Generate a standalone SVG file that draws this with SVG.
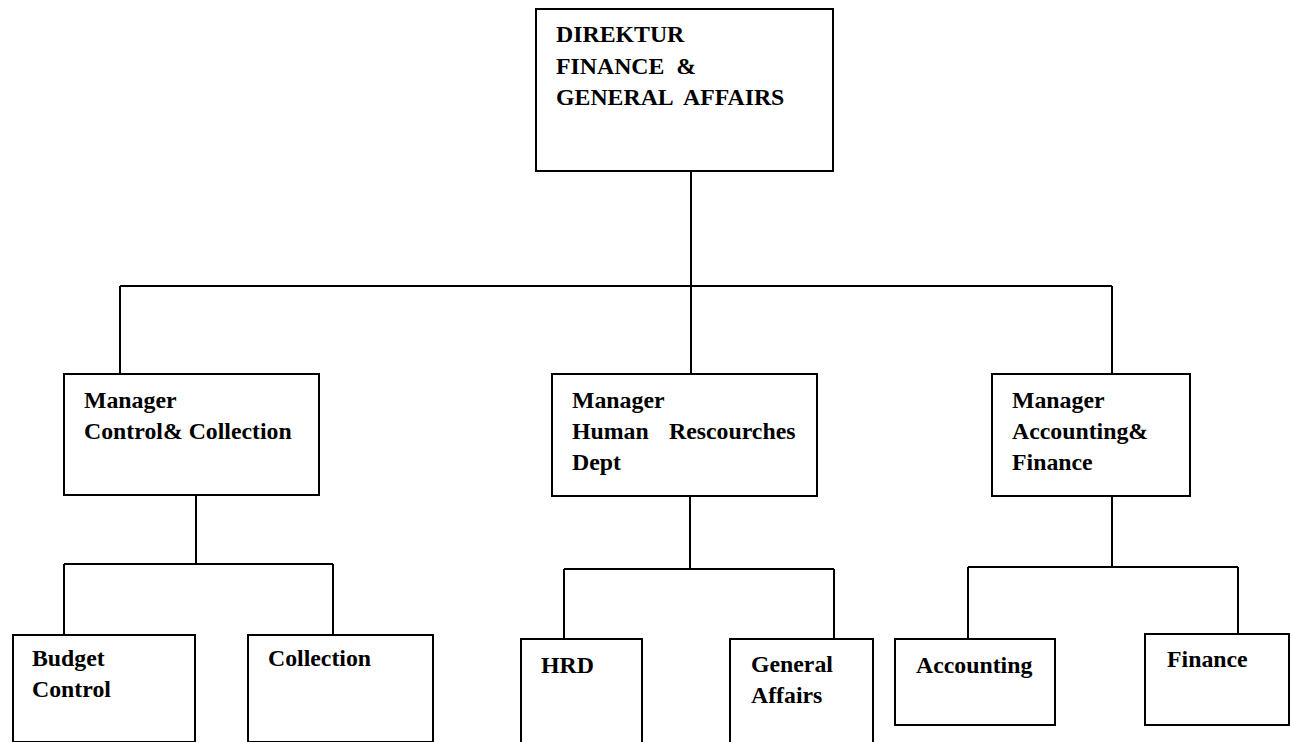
<svg xmlns="http://www.w3.org/2000/svg" width="1291" height="742" viewBox="0 0 1291 742">
<style>
.box{fill:#fff;stroke:#000;stroke-width:2}
.ln{fill:none;stroke:#000;stroke-width:2}
text{font-family:"Liberation Serif","Times New Roman",serif;font-weight:bold;font-size:23.8px;fill:#000;white-space:pre}
</style>
<rect width="1291" height="742" fill="#fff"/>
<g id="connectors">
<path class="ln" d="M691 171V374M120 286H1112M120 286V374M1112 286V374"/>
<path class="ln" d="M196 496V564M64 564H333M64 564V635M333 564V635"/>
<path class="ln" d="M690 496V569M564 569H834M564 569V639M834 569V639"/>
<path class="ln" d="M1112 496V567M968 567H1238M968 567V639M1238 567V636"/>
</g>
<g id="direktur">
<rect class="box" x="536" y="9" width="297" height="162"/>
<text x="556" y="42">DIREKTUR</text>
<text x="556" y="74" xml:space="preserve">FINANCE  &amp;</text>
<text x="556" y="105" xml:space="preserve">GENERAL  AFFAIRS</text>
</g>
<g id="mgr-control">
<rect class="box" x="64" y="374" width="255" height="121"/>
<text x="84" y="408">Manager</text>
<text x="84" y="439">Control&amp; Collection</text>
</g>
<g id="mgr-hr">
<rect class="box" x="552" y="374" width="265" height="122"/>
<text x="572" y="408">Manager</text>
<text x="572" y="439">Human</text>
<text x="669" y="439">Rescourches</text>
<text x="572" y="470">Dept</text>
</g>
<g id="mgr-accounting">
<rect class="box" x="992" y="374" width="198" height="122"/>
<text x="1012" y="408">Manager</text>
<text x="1012" y="439">Accounting&amp;</text>
<text x="1012" y="470">Finance</text>
</g>
<g id="budget">
<rect class="box" x="13" y="635" width="182" height="107"/>
<text x="32" y="666">Budget</text>
<text x="32" y="697">Control</text>
</g>
<g id="collection">
<rect class="box" x="248" y="635" width="185" height="107"/>
<text x="268" y="666">Collection</text>
</g>
<g id="hrd">
<rect class="box" x="521" y="639" width="121" height="110"/>
<text x="541" y="673">HRD</text>
</g>
<g id="general-affairs">
<rect class="box" x="730" y="639" width="143" height="110"/>
<text x="751" y="672">General</text>
<text x="751" y="703">Affairs</text>
</g>
<g id="accounting">
<rect class="box" x="895" y="639" width="160" height="86"/>
<text x="916" y="673">Accounting</text>
</g>
<g id="finance">
<rect class="box" x="1145" y="634" width="144" height="91"/>
<text x="1167" y="667">Finance</text>
</g>
</svg>
